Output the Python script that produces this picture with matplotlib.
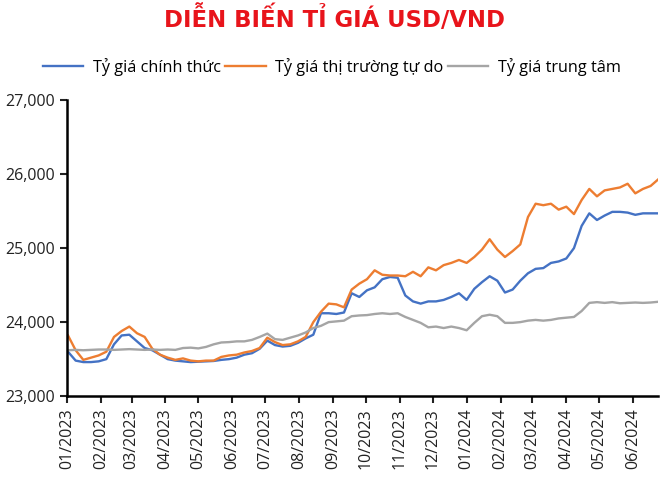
import matplotlib
matplotlib.use("Agg")
import matplotlib.pyplot as plt
import matplotlib.dates as mdates
import pandas as pd

# weekly readings, first Monday of 2023 onwards
dates = pd.date_range("2023-01-02", periods=78, freq="7D")

official = [23600, 23480, 23460, 23460, 23470, 23500, 23700, 23820, 23830, 23740,
            23650, 23620, 23560, 23500, 23480, 23470, 23460, 23465, 23470, 23475,
            23490, 23500, 23520, 23560, 23580, 23640, 23750, 23690, 23670, 23680,
            23720, 23780, 23830, 24120, 24120, 24110, 24130, 24390, 24340, 24430,
            24470, 24580, 24610, 24600, 24360, 24280, 24250, 24280, 24280, 24300,
            24340, 24390, 24300, 24450, 24540, 24620, 24560, 24400, 24440, 24560,
            24660, 24720, 24730, 24800, 24820, 24860, 25000, 25300, 25470, 25380,
            25440, 25490, 25490, 25480, 25450, 25470, 25470, 25470]

free_market = [23820, 23620, 23490, 23520, 23550, 23600, 23800, 23880, 23940, 23850,
               23800, 23640, 23560, 23520, 23490, 23510, 23480, 23470, 23480, 23480,
               23530, 23550, 23560, 23590, 23610, 23650, 23790, 23730, 23690, 23700,
               23740, 23800, 24000, 24140, 24250, 24240, 24200, 24440, 24520, 24580,
               24700, 24640, 24630, 24630, 24620, 24680, 24620, 24740, 24700, 24770,
               24800, 24840, 24800, 24880, 24980, 25120, 24980, 24880, 24960, 25050,
               25420, 25600, 25580, 25600, 25520, 25560, 25460, 25650, 25800, 25700,
               25780, 25800, 25820, 25870, 25740, 25800, 25840, 25930]

central = [23620, 23625, 23620, 23625, 23630, 23630, 23625, 23630, 23635, 23630,
           23625, 23630, 23625, 23630, 23625, 23650, 23655, 23645, 23665, 23700,
           23725, 23730, 23740, 23740, 23760, 23800, 23845, 23770, 23760, 23790,
           23820, 23860, 23920, 23950, 24000, 24010, 24020, 24080, 24090, 24095,
           24110, 24120, 24110, 24120, 24070, 24030, 23990, 23930, 23940, 23920,
           23940, 23920, 23890, 23990, 24080, 24100, 24080, 23990, 23990, 24000,
           24020, 24030, 24020, 24030, 24050, 24060, 24070, 24150, 24260, 24270,
           24260, 24270, 24255, 24260, 24265, 24260, 24265, 24275]

labels = ["Tỷ giá chính thức", "Tỷ giá thị trường tự do", "Tỷ giá trung tâm"]
colors = ["#4472C4", "#ED7D31", "#A5A5A5"]

plt.rcParams["font.family"] = ["Open Sans", "DejaVu Sans"]

fig = plt.figure(figsize=(6.69, 4.79), dpi=100)
ax = fig.add_axes([0.100, 0.173, 0.884, 0.618])

for series, lab, col in zip([official, free_market, central], labels, colors):
    ax.plot(dates, series, color=col, lw=1.7, label=lab)

ax.set_ylim(23000, 27000)
ax.set_yticks([23000, 24000, 25000, 26000, 27000])
ax.yaxis.set_major_formatter(matplotlib.ticker.FuncFormatter(lambda v, p: f"{int(v):,}"))
ax.set_xlim(pd.Timestamp("2023-01-01"), dates[-1])
ax.xaxis.set_major_locator(mdates.MonthLocator())
ax.xaxis.set_major_formatter(mdates.DateFormatter("%m/%Y"))
ax.tick_params(axis="x", labelrotation=90)
ax.tick_params(labelsize=11.5, length=5, width=1.5, colors="#222222")

for s in ["top", "right"]:
    ax.spines[s].set_visible(False)
for s in ["left", "bottom"]:
    ax.spines[s].set_linewidth(1.8)
    ax.spines[s].set_color("black")

fig.text(0.5, 0.962, "DIỄN BIẾN TỈ GIÁ USD/VND", ha="center", va="center",
         fontsize=16.4, fontweight="bold", color="#E8141B", family="DejaVu Sans")

fig.legend(loc="center", bbox_to_anchor=(0.496, 0.86), ncol=3, frameon=False,
           fontsize=11.7, handlelength=2.5, handletextpad=0.6, columnspacing=0.25)

fig.savefig("out.png", dpi=100)
